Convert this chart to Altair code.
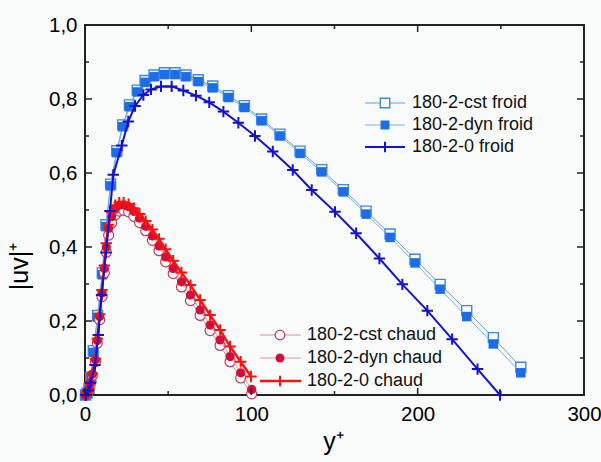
import altair as alt
import pandas as pd

# ---------------- data ----------------
froid_x = [0.3, 1.3, 2.4, 3.5, 5.0, 7.6, 10.4, 12.6, 15.4, 19.1, 22.7, 26.7, 31.4, 36.1,
           41.5, 47.7, 54.1, 60.7, 68.1, 76.8, 86.2, 95.8, 106.2, 117.2, 129.3, 142.3,
           155.3, 169.0, 183.4, 198.4, 213.5, 229.5, 245.5, 262.0]
cst_froid_y = [0.0, 0.005, 0.018, 0.048, 0.12, 0.215, 0.33, 0.46, 0.57, 0.66, 0.73, 0.784,
               0.824, 0.85, 0.865, 0.871, 0.871, 0.865, 0.852, 0.835, 0.809, 0.782, 0.746,
               0.705, 0.659, 0.609, 0.555, 0.497, 0.435, 0.367, 0.299, 0.228, 0.155, 0.075]
dyn_froid_y = [0.0, 0.004, 0.016, 0.045, 0.115, 0.21, 0.325, 0.455, 0.565, 0.655, 0.725,
               0.779, 0.819, 0.845, 0.86, 0.866, 0.866, 0.86, 0.847, 0.83, 0.804, 0.777,
               0.741, 0.70, 0.653, 0.603, 0.549, 0.489, 0.426, 0.357, 0.286, 0.212, 0.138, 0.06]

zero_froid_x = [0.5, 2.0, 3.4, 6.0, 8.0, 10.0, 12.6, 15.0, 17.0, 22.1, 26.0, 30.1, 35.1,
                39.7, 45.7, 52.1, 59.1, 66.7, 74.7, 83.2, 92.2, 102.2, 112.9, 124.9, 136.3,
                150.3, 163.0, 177.0, 190.8, 205.8, 220.7, 236.0, 249.5]
zero_froid_y = [0.0, 0.012, 0.033, 0.081, 0.162, 0.27, 0.385, 0.497, 0.595, 0.674, 0.739,
                0.781, 0.811, 0.826, 0.834, 0.834, 0.823, 0.809, 0.791, 0.766, 0.736, 0.70,
                0.658, 0.608, 0.554, 0.495, 0.437, 0.369, 0.299, 0.228, 0.151, 0.07, 0.0]

chaud_x = [0.3, 1.2, 2.3, 3.2, 4.4, 6.3, 7.4, 8.8, 10.2, 11.6, 12.8, 14.2, 16.0, 18.2,
           20.6, 23.2, 26.2, 29.4, 32.8, 36.5, 40.5, 44.5, 48.5, 53.0, 58.0, 63.4, 69.2,
           75.2, 81.2, 87.2, 93.6, 100.2]
cst_chaud_y = [0.0, 0.004, 0.013, 0.03, 0.053, 0.09, 0.14, 0.203, 0.266, 0.33, 0.386, 0.432,
               0.465, 0.487, 0.497, 0.499, 0.495, 0.483, 0.466, 0.444, 0.418, 0.39, 0.36,
               0.328, 0.292, 0.255, 0.215, 0.174, 0.134, 0.09, 0.046, 0.003]
dyn_chaud_y = [0.0, 0.005, 0.015, 0.032, 0.056, 0.095, 0.147, 0.212, 0.276, 0.342, 0.40,
               0.45, 0.482, 0.503, 0.513, 0.514, 0.509, 0.496, 0.478, 0.456, 0.43, 0.403,
               0.373, 0.342, 0.306, 0.27, 0.23, 0.189, 0.149, 0.104, 0.06, 0.015]
zero_chaud_x = [0.3, 1.2, 2.3, 3.2, 4.4, 6.3, 7.4, 8.8, 10.2, 11.6, 12.8, 14.2, 16.0, 18.2,
                20.6, 23.2, 26.2, 29.4, 32.8, 36.5, 40.5, 44.5, 48.5, 53.0, 58.0, 63.4,
                69.2, 75.2, 81.2, 87.2, 93.6, 99.8]
zero_chaud_y = [0.0, 0.005, 0.016, 0.033, 0.058, 0.098, 0.152, 0.218, 0.284, 0.35, 0.41,
                0.46, 0.494, 0.513, 0.52, 0.52, 0.516, 0.505, 0.489, 0.47, 0.447, 0.422,
                0.394, 0.363, 0.331, 0.297, 0.257, 0.216, 0.176, 0.131, 0.09, 0.05]

x_major = [0, 100, 200, 300]
x_minor = [50, 150, 250]
y_major = [0.0, 0.2, 0.4, 0.6, 0.8, 1.0]
y_minor = [0.1, 0.3, 0.5, 0.7, 0.9]

legend_top = ["180-2-cst froid", "180-2-dyn froid", "180-2-0 froid"]
legend_bottom = ["180-2-cst chaud", "180-2-dyn chaud", "180-2-0 chaud"]

# ---------------- styling ----------------
W, H = 499, 370
FONT = "Liberation Sans"
BG = "#f9fbfa"
xs = alt.Scale(domain=[0, 300], nice=False, zero=False)
ys = alt.Scale(domain=[0, 1], nice=False, zero=False)
CROSS = "M-1,0L1,0M0,-1L0,1"

C_CSTF_LINE, C_CSTF_MK = "#5f9fe8", "#3d86e2"
C_DYNF_LINE, C_DYNF_MK = "#7aaee8", "#1c6de6"
C_0F = "#1212cf"
C_CSTC_LINE, C_CSTC_MK = "#d98aa0", "#c23a58"
C_DYNC_LINE, C_DYNC_MK = "#dc93a8", "#d0103a"
C_0C = "#ff1010"

XA = alt.Axis(values=x_major, domain=False, ticks=False, grid=False,
              labelFontSize=20.5, labelFont=FONT, labelColor="black",
              labelPadding=9, labelFlush=False,
              title="y⁺", titleFontSize=25, titleFont=FONT, titleFontWeight="normal",
              titleColor="black", titleX=248, titleY=46, titleBaseline="middle")
YA = alt.Axis(values=y_major, domain=False, ticks=False, grid=False,
              labelExpr="replace(format(datum.value, '.1f'), '.', ',')",
              labelFontSize=20.5, labelFont=FONT, labelColor="black",
              labelPadding=8, labelFlush=False,
              title="|uv|⁺", titleFontSize=25, titleFont=FONT, titleFontWeight="normal",
              titleColor="black", titleAngle=-90, titleX=-66, titleY=241,
              titleAlign="center", titleBaseline="middle")


def df(x, y):
    return pd.DataFrame({"x": x, "y": y})


def enc(chart):
    return chart.encode(x=alt.X("x:Q", scale=xs, axis=XA),
                        y=alt.Y("y:Q", scale=ys, axis=YA))


layers = []

# cst froid
d = df(froid_x, cst_froid_y)
layers.append(enc(alt.Chart(d).mark_line(color=C_CSTF_LINE, strokeWidth=1)))
layers.append(enc(alt.Chart(d).mark_point(shape="square", size=100, filled=True, fill="white",
                                          stroke=C_CSTF_MK, strokeWidth=1.4, opacity=1)))
# dyn froid
d = df(froid_x, dyn_froid_y)
layers.append(enc(alt.Chart(d).mark_line(color=C_DYNF_LINE, strokeWidth=1)))
layers.append(enc(alt.Chart(d).mark_point(shape="square", size=90, filled=True,
                                          color=C_DYNF_MK, opacity=1)))
# cst chaud
d = df(chaud_x, cst_chaud_y)
layers.append(enc(alt.Chart(d).mark_line(color=C_CSTC_LINE, strokeWidth=1)))
layers.append(enc(alt.Chart(d).mark_point(shape="circle", size=100, filled=True, fill="white",
                                          stroke=C_CSTC_MK, strokeWidth=1.2, opacity=1)))
# dyn chaud
d = df(chaud_x, dyn_chaud_y)
layers.append(enc(alt.Chart(d).mark_line(color=C_DYNC_LINE, strokeWidth=1)))
layers.append(enc(alt.Chart(d).mark_point(shape="circle", size=85, filled=True,
                                          color=C_DYNC_MK, opacity=1)))
# 0 chaud
d = df(zero_chaud_x, zero_chaud_y)
layers.append(enc(alt.Chart(d).mark_line(color=C_0C, strokeWidth=2.5)))
layers.append(enc(alt.Chart(d).mark_point(shape=CROSS, size=130, filled=False,
                                          color=C_0C, strokeWidth=2, opacity=1)))
# 0 froid
d = df(zero_froid_x, zero_froid_y)
layers.append(enc(alt.Chart(d).mark_line(color=C_0F, strokeWidth=2)))
layers.append(enc(alt.Chart(d).mark_point(shape=CROSS, size=130, filled=False,
                                          color=C_0F, strokeWidth=2, opacity=1)))


# ---------------- inward ticks on all four sides ----------------
def xticks(vals, ln):
    t = pd.DataFrame({"x": vals})
    out = []
    for y0, y1 in [(H, H - ln), (0, ln)]:
        out.append(alt.Chart(t).mark_rule(color="#222", strokeWidth=1.5).encode(
            x=alt.X("x:Q", scale=xs, axis=XA), y=alt.value(y0), y2=alt.value(y1)))
    return out


def yticks(vals, ln):
    t = pd.DataFrame({"y": vals})
    out = []
    for x0, x1 in [(0, ln), (W, W - ln)]:
        out.append(alt.Chart(t).mark_rule(color="#222", strokeWidth=1.5).encode(
            y=alt.Y("y:Q", scale=ys, axis=YA), x=alt.value(x0), x2=alt.value(x1)))
    return out


layers += xticks(x_major, 7) + xticks(x_minor, 4) + yticks(y_major, 7) + yticks(y_minor, 4)

# ---------------- legends ----------------
one = pd.DataFrame({"a": [0]})


def legend_entry(label, xl0, xl1, xm, xt, yy, line_color, line_w, mk):
    out = [alt.Chart(one).mark_rule(color=line_color, strokeWidth=line_w).encode(
        x=alt.value(xl0), x2=alt.value(xl1), y=alt.value(yy))]
    out.append(alt.Chart(one).mark_point(opacity=1, **mk).encode(
        x=alt.value(xm), y=alt.value(yy)))
    out.append(alt.Chart(one).mark_text(text=label, font=FONT, fontSize=18, align="left",
                                        baseline="middle", color="#111").encode(
        x=alt.value(xt), y=alt.value(yy)))
    return out


top_styles = [
    (C_CSTF_LINE, 1, dict(shape="square", size=90, filled=True, fill="white",
                          stroke=C_CSTF_MK, strokeWidth=1.4)),
    (C_DYNF_LINE, 1, dict(shape="square", size=80, filled=True, color=C_DYNF_MK)),
    (C_0F, 2, dict(shape=CROSS, size=110, filled=False, color=C_0F, strokeWidth=2)),
]
bottom_styles = [
    (C_CSTC_LINE, 1, dict(shape="circle", size=95, filled=True, fill="white",
                          stroke=C_CSTC_MK, strokeWidth=1.2)),
    (C_DYNC_LINE, 1, dict(shape="circle", size=80, filled=True, color=C_DYNC_MK)),
    (C_0C, 2.5, dict(shape=CROSS, size=110, filled=False, color=C_0C, strokeWidth=2)),
]
for i, (lab, st) in enumerate(zip(legend_top, top_styles)):
    layers += legend_entry(lab, 280, 320, 300, 327, 78 + 22 * i, st[0], st[1], st[2])
for i, (lab, st) in enumerate(zip(legend_bottom, bottom_styles)):
    layers += legend_entry(lab, 175, 216, 195, 222, 310 + 23 * i, st[0], st[1], st[2])

chart = alt.layer(*layers).properties(
    width=W, height=H, background=BG,
    padding={"left": 85, "top": 25, "right": 17, "bottom": 67},
    autosize=alt.AutoSizeParams(type="none"),
).configure_view(stroke="#222", strokeWidth=2, fill=BG)

chart.save("out.html", embed_options={"renderer": "svg", "actions": False})
